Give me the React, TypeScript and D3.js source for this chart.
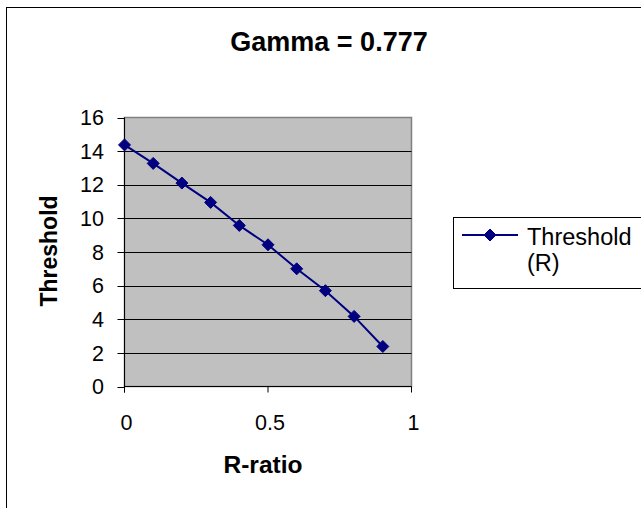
import * as d3 from 'd3'
import React from 'react'

const rRatio = [0, 0.1, 0.2, 0.3, 0.4, 0.5, 0.6, 0.7, 0.8, 0.9]
const threshold = [14.37, 13.27, 12.1, 10.95, 9.58, 8.43, 7.0, 5.7, 4.17, 2.38]
const yTicks = [0, 2, 4, 6, 8, 10, 12, 14, 16]
const xTicks = [0, 0.5, 1]
const seriesName = ['Threshold', '(R)']

const font = '"Liberation Sans", Arial, sans-serif'
const navy = '#000080'

export default function App() {
  const width = 641
  const height = 508
  const plot = { left: 124.5, right: 411.5, top: 117.5, bottom: 386.5 }

  const x = d3.scaleLinear().domain([0, 1]).range([plot.left, plot.right])
  const y = d3.scaleLinear().domain([0, 16]).range([plot.bottom, plot.top])

  const points = rRatio.map((r, i) => [r, threshold[i]] as [number, number])
  const line = d3.line<[number, number]>().x((d) => x(d[0])).y((d) => y(d[1]))

  const diamond = (cx: number, cy: number, s: number) =>
    `M${cx},${cy - s}L${cx + s},${cy}L${cx},${cy + s}L${cx - s},${cy}Z`

  return (
    <svg width={width} height={height} style={{ position: 'absolute', left: 0, top: 0 }}>
      <rect x={0} y={0} width={width} height={height} fill="white" />
      <rect x={6.5} y={7.5} width={700} height={600} fill="none" stroke="black" />

      <text x={329} y={51} textAnchor="middle" fontFamily={font} fontSize={27} fontWeight="bold">
        Gamma = 0.777
      </text>

      {/* plot area */}
      <rect x={plot.left} y={plot.top} width={plot.right - plot.left} height={plot.bottom - plot.top}
        fill="#C0C0C0" stroke="#808080" strokeWidth={1.5} />
      {yTicks.filter((t) => t > 0 && t < 16).map((t) => (
        <line key={t} x1={plot.left} x2={plot.right} y1={Math.round(y(t)) + 0.5} y2={Math.round(y(t)) + 0.5}
          stroke="black" />
      ))}

      {/* axes */}
      <line x1={plot.left} x2={plot.left} y1={plot.top} y2={plot.bottom + 6} stroke="black" />
      <line x1={plot.left} x2={plot.right} y1={plot.bottom} y2={plot.bottom} stroke="black" />
      {yTicks.map((t) => (
        <g key={t}>
          <line x1={plot.left - 7} x2={plot.left} y1={Math.round(y(t)) + 0.5} y2={Math.round(y(t)) + 0.5} stroke="black" />
          <text x={104} y={y(t)} dy="0.36em" textAnchor="end" fontFamily={font} fontSize={21.5}>{t}</text>
        </g>
      ))}
      {xTicks.map((t) => (
        <g key={t}>
          <line x1={x(t)} x2={x(t)} y1={plot.bottom} y2={plot.bottom + 6} stroke="black" />
          <text x={x(t) + 2} y={430} textAnchor="middle" fontFamily={font} fontSize={21.5}>{t}</text>
        </g>
      ))}

      <text x={263} y={473} textAnchor="middle" fontFamily={font} fontSize={24.5} fontWeight="bold">R-ratio</text>
      <text transform="translate(57,251) rotate(-90)" textAnchor="middle" fontFamily={font} fontSize={23}
        fontWeight="bold">Threshold</text>

      {/* series */}
      <path d={line(points) ?? ''} fill="none" stroke={navy} strokeWidth={2} />
      {points.map((p, i) => (
        <path key={i} d={diamond(x(p[0]), y(p[1]), 6)} fill={navy} stroke={navy} />
      ))}

      {/* legend */}
      <rect x={453.5} y={217.5} width={300} height={71} fill="white" stroke="black" />
      <line x1={462} x2={518} y1={235} y2={235} stroke={navy} strokeWidth={2} />
      <path d={diamond(490, 235, 6)} fill={navy} stroke={navy} />
      {seriesName.map((s, i) => (
        <text key={s} x={527} y={245 + i * 26} fontFamily={font} fontSize={23.5}>{s}</text>
      ))}
    </svg>
  )
}
